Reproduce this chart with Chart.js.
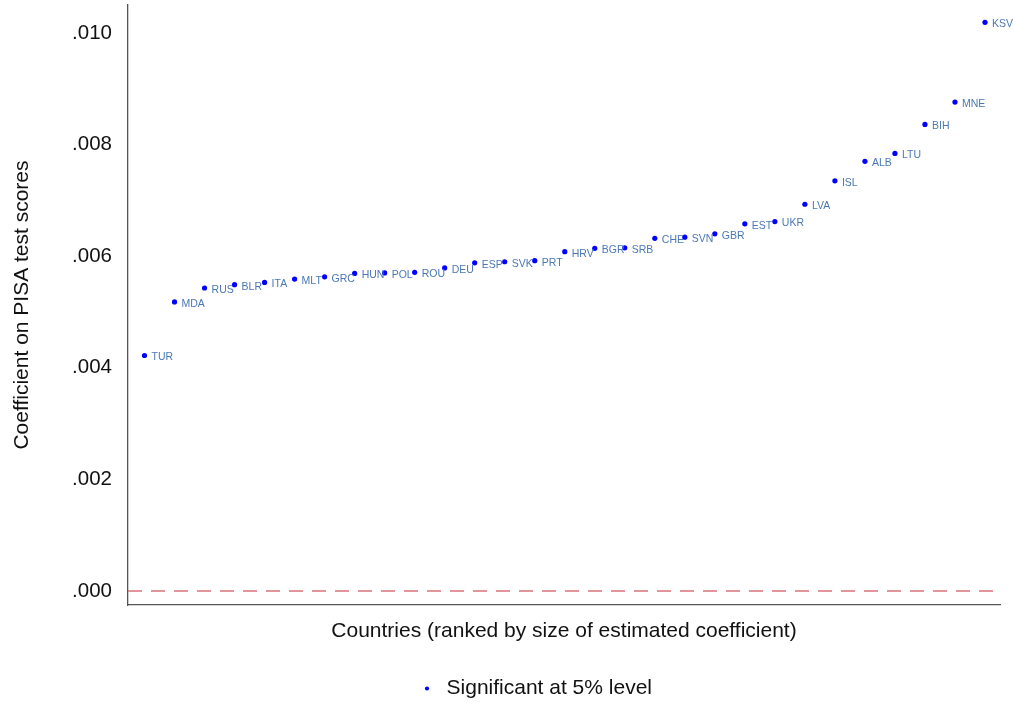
<!DOCTYPE html>
<html>
<head>
<meta charset="utf-8">
<script src="https://cdn.jsdelivr.net/npm/chart.js@4"></script>
<style>
html,body{margin:0;padding:0;background:#fff;}
#wrap{width:1013px;height:705px;position:relative;}
</style>
</head>
<body>
<div id="wrap"><canvas id="c" width="1013" height="705"></canvas></div>
<script>
const countries = ['TUR','MDA','RUS','BLR','ITA','MLT','GRC','HUN','POL','ROU','DEU','ESP','SVK','PRT','HRV','BGR','SRB','CHE','SVN','GBR','EST','UKR','LVA','ISL','ALB','LTU','BIH','MNE','KSV'];
const coefficients = [0.00422,0.00518,0.00543,0.00549,0.00553,0.00559,0.00563,0.00569,0.00570,0.00571,0.00579,0.00588,0.00590,0.00592,0.00608,0.00614,0.00615,0.00632,0.00634,0.00640,0.00658,0.00662,0.00693,0.00735,0.00770,0.00784,0.00836,0.00876,0.01019];
const yTicks = [0, 0.002, 0.004, 0.006, 0.008, 0.010];
const zeroLine = [0, 0];
const seriesLabel = 'Significant at 5% level';
const xTitle = 'Countries (ranked by size of estimated coefficient)';
const yTitle = 'Coefficient on PISA test scores';

const FONT = '"Liberation Sans", Arial, Helvetica, sans-serif';
const xMin = 0.45, xMax = 29.5;

const labelPlugin = {
  id: 'pointLabels',
  afterLayout(chart) {
    if (chart.legend) { chart.legend.left += 70; }
  },
  afterDatasetsDraw(chart) {
    const meta = chart.getDatasetMeta(0);
    const ctx = chart.ctx;
    ctx.save();
    ctx.font = '10.5px ' + FONT;
    ctx.fillStyle = '#4a78b5';
    ctx.textAlign = 'left';
    ctx.textBaseline = 'middle';
    meta.data.forEach((pt, i) => {
      ctx.fillText(countries[i], pt.x + 7, pt.y + 2);
    });
    ctx.restore();
  }
};

new Chart(document.getElementById('c'), {
  type: 'scatter',
  data: {
    datasets: [
      {
        label: seriesLabel,
        data: coefficients.map((v, i) => ({x: i + 1, y: v})),
        backgroundColor: '#0000ff',
        borderColor: '#0000ff',
        pointRadius: 2.6,
        pointBorderWidth: 0,
        pointHoverRadius: 2.6
      },
      {
        label: 'zero',
        type: 'line',
        data: [{x: xMin, y: zeroLine[0]}, {x: xMax, y: zeroLine[1]}],
        borderColor: '#d9737b',
        borderWidth: 1.5,
        borderDash: [14, 9],
        pointRadius: 0,
        fill: false
      }
    ]
  },
  options: {
    responsive: false,
    animation: false,
    layout: {padding: {top: 5, right: 13, left: 0, bottom: -4}},
    plugins: {
      tooltip: {enabled: false},
      legend: {
        position: 'bottom',
        labels: {
          filter: (item) => item.datasetIndex === 0,
          usePointStyle: true,
          pointStyle: 'circle',
          boxWidth: 18,
          boxHeight: 3,
          padding: 23,
          color: '#111',
          font: {family: FONT, size: 21}
        }
      }
    },
    scales: {
      x: {
        type: 'linear',
        min: xMin,
        max: xMax,
        grid: {display: false},
        border: {display: true, color: '#555', width: 1.3},
        ticks: {display: false},
        title: {display: true, text: xTitle, color: '#111', font: {family: FONT, size: 21}, padding: {top: 0, bottom: 11.4}},
        afterFit(s) { s.height = 50; s.paddingLeft = 0; s.paddingRight = 0; }
      },
      y: {
        min: -0.00025,
        max: 0.0105,
        grid: {display: false, drawTicks: false},
        border: {display: true, color: '#555', width: 1.3},
        afterBuildTicks(s) { s.ticks = yTicks.map(v => ({value: v})); },
        ticks: {
          padding: 16,
          color: '#111',
          font: {family: FONT, size: 20.5},
          callback: (v) => v.toFixed(3).replace(/^0/, '')
        },
        title: {display: true, text: yTitle, color: '#111', font: {family: FONT, size: 21}, padding: {top: 9.4, bottom: 0}},
        afterFit(s) { s.width = 128; s.paddingTop = 0; s.paddingBottom = 0; }
      }
    }
  },
  plugins: [labelPlugin]
});
</script>
</body>
</html>
